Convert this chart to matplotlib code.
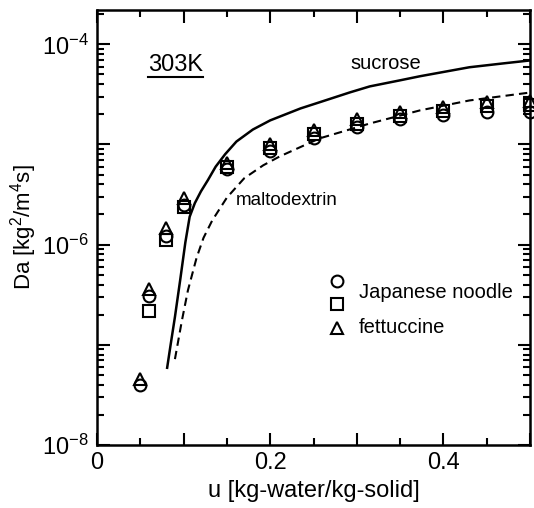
import matplotlib
matplotlib.use("Agg")
import matplotlib.pyplot as plt
import matplotlib.ticker as mticker
import numpy as np

plt.rcParams['font.family'] = ['Liberation Sans', 'DejaVu Sans']
plt.rcParams['mathtext.fontset'] = 'custom'
plt.rcParams['mathtext.rm'] = 'Liberation Sans'
plt.rcParams['mathtext.it'] = 'Liberation Sans'

# Measured diffusivity vs. moisture content at 303 K
u_pts = [0.05, 0.06, 0.08, 0.10, 0.15, 0.20, 0.25, 0.30, 0.35, 0.40, 0.45, 0.50]
da_noodle_circ = [4.0e-8, 3.1e-7, 1.23e-6, 2.5e-6, 5.7e-6, 8.7e-6, 1.17e-5, 1.48e-5, 1.78e-5, 1.95e-5, 2.1e-5, 2.1e-5]
da_noodle_sq = [None, 2.2e-7, 1.12e-6, 2.4e-6, 6.0e-6, 9.2e-6, 1.27e-5, 1.6e-5, 1.92e-5, 2.15e-5, 2.4e-5, 2.45e-5]
da_fettuccine = [4.6e-8, 3.6e-7, 1.48e-6, 2.9e-6, 6.6e-6, 1.02e-5, 1.41e-5, 1.78e-5, 2.1e-5, 2.34e-5, 2.63e-5, 2.7e-5]

# Model curves for sugar solutions
u_suc = [0.081, 0.085, 0.090, 0.096, 0.102, 0.107, 0.113, 0.120, 0.128, 0.137, 0.148, 0.161, 0.18,
         0.20, 0.235, 0.26, 0.292, 0.315, 0.35, 0.373, 0.43, 0.47, 0.50]
da_suc = [5.9e-8, 1.0e-7, 1.9e-7, 4.4e-7, 1.05e-6, 1.9e-6, 2.6e-6, 3.4e-6, 4.4e-6, 6.0e-6, 8.0e-6, 1.07e-5, 1.41e-5,
          1.74e-5, 2.29e-5, 2.69e-5, 3.31e-5, 3.8e-5, 4.37e-5, 4.8e-5, 5.9e-5, 6.46e-5, 6.9e-5]
u_mal = [0.090, 0.098, 0.105, 0.115, 0.123, 0.133, 0.150, 0.170, 0.192, 0.211, 0.257, 0.315,
         0.373, 0.43, 0.50]
da_mal = [7.2e-8, 1.74e-7, 3.5e-7, 7.4e-7, 1.17e-6, 1.74e-6, 2.95e-6, 4.6e-6, 6.2e-6, 7.6e-6, 1.15e-5, 1.62e-5,
          2.19e-5, 2.75e-5, 3.3e-5]

fig = plt.figure(figsize=(5.34, 5.08), dpi=100)
ax = fig.add_axes([97 / 534, 1 - 445 / 508, 433 / 534, 435 / 508])

ax.plot(u_suc, da_suc, color='black', lw=1.8, solid_joinstyle='round')
ax.plot(u_mal, da_mal, color='black', lw=1.5, ls=(0, (4, 2.5)))

mk = dict(ls='none', mfc='none', mec='black', mew=1.5, ms=8.5, clip_on=False)
u_sq = [u for u, d in zip(u_pts, da_noodle_sq) if d is not None]
d_sq = [d for d in da_noodle_sq if d is not None]
ax.plot(u_pts, da_noodle_circ, marker='o', **mk)
ax.plot(u_sq, d_sq, marker='s', **mk)
ax.plot(u_pts, da_fettuccine, marker='^', **mk)

ax.set_yscale('log')
ax.set_xlim(0, 0.5)
ax.set_ylim(1e-8, 2.2e-4)

ax.xaxis.set_major_locator(mticker.MultipleLocator(0.1))
ax.xaxis.set_minor_locator(mticker.MultipleLocator(0.05))
ax.xaxis.set_major_formatter(mticker.FuncFormatter(
    lambda v, p: '0' if abs(v) < 1e-9 else ('%.1f' % v if round(v * 10) % 2 == 0 else '')))

ax.yaxis.set_major_locator(mticker.LogLocator(base=10, numticks=100))
ax.yaxis.set_minor_locator(mticker.LogLocator(base=10, subs=np.arange(2, 10), numticks=100))
ax.yaxis.set_minor_formatter(mticker.NullFormatter())


def ylab(v, p):
    e = int(round(np.log10(v)))
    return r'$10^{%d}$' % e if e % 2 == 0 else ''


ax.yaxis.set_major_formatter(mticker.FuncFormatter(ylab))

ax.tick_params(which='both', direction='in', top=True, right=True, width=1.5, labelsize=17)
ax.tick_params(which='major', length=9)
ax.tick_params(which='minor', length=5)
ax.tick_params(axis='x', pad=5)
ax.tick_params(axis='y', pad=6)
for s in ax.spines.values():
    s.set_linewidth(1.8)

ax.set_xlabel('u [kg-water/kg-solid]', fontsize=17, labelpad=4)
ax.set_ylabel(r'Da [kg$^2$/m$^4$s]', fontsize=16, labelpad=2)

ax.text(0.118, 0.873, '303K', transform=ax.transAxes, fontsize=17, ha='left', va='center')
ax.plot([0.118, 0.245], [0.845, 0.845], transform=ax.transAxes, color='black', lw=1.5)
ax.text(0.585, 0.878, 'sucrose', transform=ax.transAxes, fontsize=14.5, ha='left', va='center')
ax.text(0.32, 0.562, 'maltodextrin', transform=ax.transAxes, fontsize=13.5, ha='left', va='center')

# legend keys
lk = dict(ls='none', mfc='none', mec='black', mew=1.5, ms=8.5, transform=ax.transAxes)
ax.plot([0.555], [0.378], marker='o', **lk)
ax.plot([0.555], [0.325], marker='s', **lk)
ax.plot([0.555], [0.27], marker='^', **lk)
ax.text(0.605, 0.35, 'Japanese noodle', transform=ax.transAxes, fontsize=14.5, ha='left', va='center')
ax.text(0.605, 0.27, 'fettuccine', transform=ax.transAxes, fontsize=14.5, ha='left', va='center')

fig.savefig('out.png', dpi=100)
